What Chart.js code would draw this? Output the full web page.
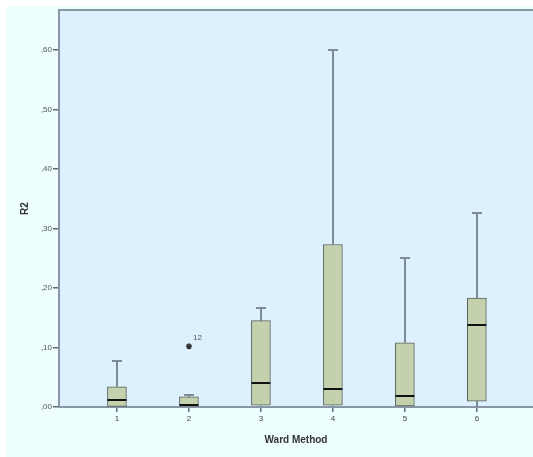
<!DOCTYPE html>
<html>
<head>
<meta charset="utf-8">
<script src="https://cdn.jsdelivr.net/npm/chart.js@4.4.1/dist/chart.umd.min.js"></script>
<style>
  html, body { margin: 0; padding: 0; background: #ffffff; }
  canvas { display: block; }
</style>
</head>
<body>
<canvas id="chart" width="533" height="457"></canvas>
<script>
// Ward Method clusters on the x axis, R2 distribution per cluster
const categories = ["1", "2", "3", "4", "5", "6"];
const xPositions = [1, 2, 3, 4, 5, 6];
const lowerWhisker = [0.000, 0.000, 0.002, 0.002, 0.000, 0.000];
const q1 = [0.001, 0.000, 0.003, 0.003, 0.002, 0.010];
const median = [0.011, 0.003, 0.040, 0.030, 0.019, 0.138];
const q3 = [0.034, 0.017, 0.145, 0.273, 0.108, 0.183];
const upperWhisker = [0.078, 0.020, 0.166, 0.599, 0.250, 0.326];

const outlierX = [2];
const outlierY = [0.102];
const outlierLabels = ["12"];

const yTickValues = [0, 0.1, 0.2, 0.3, 0.4, 0.5, 0.6];
const yTickLabels = [",00", ",10", ",20", ",30", ",40", ",50", ",60"];

const axisColor = "#8797a6";
const tickColor = "#5d6a75";
const boxFill = "#c3d1ad";
const boxBorder = "#5b615b";
const whiskerColor = "#7d8b97";

const backgroundPlugin = {
    id: "backgrounds",
    beforeDraw(chart) {
        const { ctx, chartArea } = chart;
        ctx.save();
        ctx.fillStyle = "#ffffff";
        ctx.fillRect(0, 0, chart.width, chart.height);
        ctx.fillStyle = "#eefefe";
        ctx.fillRect(6, 6, chart.width - 6, chart.height - 6);
        ctx.fillStyle = "#dcf0fe";
        ctx.fillRect(chartArea.left, chartArea.top, chartArea.right - chartArea.left, chartArea.bottom - chartArea.top);
        ctx.restore();
    },
    afterDraw(chart) {
        const { ctx, chartArea } = chart;
        ctx.save();
        ctx.strokeStyle = axisColor;
        ctx.lineWidth = 2;
        ctx.beginPath();
        ctx.moveTo(chartArea.left, chartArea.top);
        ctx.lineTo(chartArea.right, chartArea.top);
        ctx.stroke();
        ctx.restore();
    },
};

const boxPlugin = {
    id: "boxParts",
    beforeDatasetsDraw(chart) {
        // whiskers and caps sit behind the boxes
        const { ctx } = chart;
        const x = chart.scales.x;
        const y = chart.scales.y;
        ctx.save();
        ctx.strokeStyle = whiskerColor;
        ctx.lineWidth = 2;
        xPositions.forEach((xv, i) => {
            const px = Math.round(x.getPixelForValue(xv));
            ctx.beginPath();
            ctx.moveTo(px, y.getPixelForValue(upperWhisker[i]));
            ctx.lineTo(px, y.getPixelForValue(q3[i]));
            ctx.moveTo(px, y.getPixelForValue(q1[i]));
            ctx.lineTo(px, y.getPixelForValue(lowerWhisker[i]));
            ctx.stroke();
            ctx.beginPath();
            const cy = Math.round(y.getPixelForValue(upperWhisker[i]));
            ctx.moveTo(px - 5, cy);
            ctx.lineTo(px + 5, cy);
            ctx.stroke();
        });
        ctx.restore();
    },
    afterDatasetsDraw(chart) {
        const { ctx } = chart;
        const x = chart.scales.x;
        const y = chart.scales.y;
        ctx.save();
        ctx.strokeStyle = "#111111";
        ctx.lineWidth = 2;
        xPositions.forEach((xv, i) => {
            const px = x.getPixelForValue(xv);
            const py = Math.round(y.getPixelForValue(median[i]));
            ctx.beginPath();
            ctx.moveTo(px - 9.5, py);
            ctx.lineTo(px + 9.5, py);
            ctx.stroke();
        });
        ctx.fillStyle = "#555555";
        ctx.font = "8px 'Liberation Sans', Arial, sans-serif";
        ctx.textAlign = "left";
        ctx.textBaseline = "middle";
        outlierX.forEach((xv, i) => {
            ctx.fillText(outlierLabels[i], x.getPixelForValue(xv) + 4, y.getPixelForValue(outlierY[i]) - 8);
        });
        ctx.restore();
    },
};

new Chart(document.getElementById("chart"), {
    type: "bar",
    data: {
        datasets: [
            {
                label: "R2",
                data: xPositions.map((xv, i) => ({ x: xv, y: [q1[i], q3[i]] })),
                backgroundColor: boxFill,
                borderColor: boxBorder,
                borderWidth: 1,
                borderSkipped: false,
                barThickness: 19,
                order: 2,
            },
            {
                type: "scatter",
                label: "outliers",
                data: outlierX.map((xv, i) => ({ x: xv, y: outlierY[i] })),
                pointStyle: "star",
                radius: 3,
                borderWidth: 1.5,
                borderColor: "#333333",
                backgroundColor: "#333333",
                order: 1,
            },
        ],
    },
    options: {
        responsive: false,
        animation: false,
        devicePixelRatio: 1,
        layout: { autoPadding: false, padding: { top: 10, left: 0, right: 0, bottom: 0 } },
        plugins: {
            legend: { display: false },
            tooltip: { enabled: false },
        },
        scales: {
            x: {
                type: "linear",
                min: 0.195,
                max: 6.78,
                offset: false,
                afterFit: (scale) => {
                    scale.height = 50;
                    scale.paddingLeft = 0;
                    scale.paddingRight = 0;
                },
                afterBuildTicks: (scale) => { scale.ticks = xPositions.map(v => ({ value: v })); },
                ticks: {
                    callback: (value) => categories[xPositions.indexOf(value)],
                    color: "#444444",
                    padding: 2,
                    maxRotation: 0,
                    font: { family: "'Liberation Sans', Arial, sans-serif", size: 8 },
                },
                grid: { offset: false, drawOnChartArea: false, drawTicks: true, tickLength: 5, color: tickColor, lineWidth: 1.5 },
                border: { display: true, color: axisColor, width: 2 },
                title: {
                    display: true,
                    text: "Ward Method",
                    color: "#333333",
                    padding: { top: 0, bottom: 11 },
                    font: { family: "'Liberation Sans', Arial, sans-serif", size: 10, weight: "bold" },
                },
            },
            y: {
                type: "linear",
                min: 0,
                max: 0.667,
                afterFit: (scale) => { scale.width = 59; },
                afterBuildTicks: (scale) => { scale.ticks = yTickValues.map(v => ({ value: v })); },
                ticks: {
                    callback: (value) => yTickLabels[yTickValues.indexOf(value)],
                    color: "#555555",
                    padding: 1,
                    font: { family: "'Liberation Sans', Arial, sans-serif", size: 8 },
                },
                grid: { drawOnChartArea: false, drawTicks: true, tickLength: 6, color: tickColor, lineWidth: 1.5 },
                border: { display: true, color: axisColor, width: 2 },
                title: {
                    display: true,
                    text: "R2",
                    color: "#333333",
                    padding: { top: 19, bottom: 0 },
                    font: { family: "'Liberation Sans', Arial, sans-serif", size: 10, weight: "bold" },
                },
            },
        },
    },
    plugins: [backgroundPlugin, boxPlugin],
});
</script>
</body>
</html>
